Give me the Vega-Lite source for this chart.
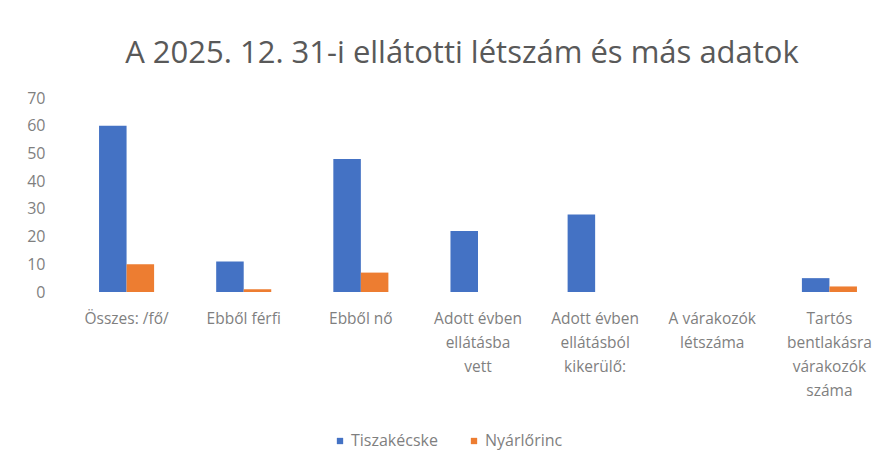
{
  "$schema": "https://vega.github.io/schema/vega-lite/v6.json",
  "width": 820,
  "height": 194,
  "autosize": "none",
  "padding": {"left": 68, "top": 98, "right": 0, "bottom": 164},
  "background": "#ffffff",
  "title": {
    "text": "A 2025. 12. 31-i ellátotti létszám és más adatok",
    "font": "Open Sans",
    "fontSize": 31,
    "fontWeight": "normal",
    "color": "#595959",
    "anchor": "middle",
    "dx": -16,
    "offset": 20
  },
  "data": {
    "values": [
      {"kategoria": "Összes: /fő/", "telepules": "Tiszakécske", "ertek": 60},
      {"kategoria": "Összes: /fő/", "telepules": "Nyárlőrinc", "ertek": 10},
      {"kategoria": "Ebből férfi", "telepules": "Tiszakécske", "ertek": 11},
      {"kategoria": "Ebből férfi", "telepules": "Nyárlőrinc", "ertek": 1},
      {"kategoria": "Ebből nő", "telepules": "Tiszakécske", "ertek": 48},
      {"kategoria": "Ebből nő", "telepules": "Nyárlőrinc", "ertek": 7},
      {"kategoria": "Adott évben\nellátásba\nvett", "telepules": "Tiszakécske", "ertek": 22},
      {"kategoria": "Adott évben\nellátásba\nvett", "telepules": "Nyárlőrinc", "ertek": 0},
      {"kategoria": "Adott évben\nellátásból\nkikerülő:", "telepules": "Tiszakécske", "ertek": 28},
      {"kategoria": "Adott évben\nellátásból\nkikerülő:", "telepules": "Nyárlőrinc", "ertek": 0},
      {"kategoria": "A várakozók\nlétszáma", "telepules": "Tiszakécske", "ertek": 0},
      {"kategoria": "A várakozók\nlétszáma", "telepules": "Nyárlőrinc", "ertek": 0},
      {"kategoria": "Tartós\nbentlakásra\nvárakozók\nszáma", "telepules": "Tiszakécske", "ertek": 5},
      {"kategoria": "Tartós\nbentlakásra\nvárakozók\nszáma", "telepules": "Nyárlőrinc", "ertek": 2}
    ]
  },
  "mark": {"type": "bar"},
  "encoding": {
    "x": {
      "field": "kategoria",
      "type": "nominal",
      "sort": null,
      "scale": {"paddingInner": 0.53, "paddingOuter": 0.265},
      "axis": {
        "title": null,
        "labelAngle": 0,
        "labelExpr": "split(datum.label, '\\n')",
        "labelFont": "Open Sans",
        "labelFontSize": 15.5,
        "labelColor": "#7f7f7f",
        "labelLineHeight": 24,
        "labelPadding": 19,
        "labelBaseline": "top",
        "ticks": false,
        "domain": false,
        "labelLimit": 0
      }
    },
    "xOffset": {"field": "telepules", "type": "nominal", "sort": ["Tiszakécske", "Nyárlőrinc"]},
    "y": {
      "field": "ertek",
      "type": "quantitative",
      "scale": {"domain": [0, 70]},
      "axis": {
        "title": null,
        "values": [0, 10, 20, 30, 40, 50, 60, 70],
        "grid": false,
        "domain": false,
        "ticks": false,
        "labelFont": "Open Sans",
        "labelFontSize": 16,
        "labelColor": "#7f7f7f",
        "labelPadding": 23
      }
    },
    "color": {
      "field": "telepules",
      "type": "nominal",
      "sort": ["Tiszakécske", "Nyárlőrinc"],
      "scale": {"domain": ["Tiszakécske", "Nyárlőrinc"], "range": ["#4472C4", "#ED7D31"]},
      "legend": {
        "title": null,
        "orient": "none",
        "direction": "horizontal",
        "legendX": 264,
        "legendY": 335,
        "symbolType": "square",
        "symbolSize": 40,
        "labelFont": "Open Sans",
        "labelFontSize": 16,
        "labelColor": "#7f7f7f",
        "columnPadding": 28,
        "labelOffset": 3
      }
    }
  },
  "config": {"view": {"stroke": null}}
}
